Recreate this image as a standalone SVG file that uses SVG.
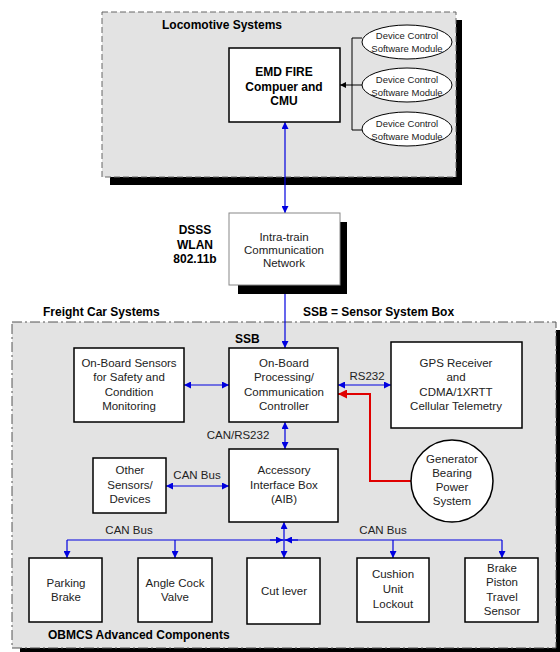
<svg xmlns="http://www.w3.org/2000/svg" width="560" height="652" viewBox="0 0 560 652">
<defs>
<marker id="ab" viewBox="0 0 10 10" refX="10" refY="5" markerWidth="7" markerHeight="7" markerUnits="userSpaceOnUse" orient="auto-start-reverse"><path d="M0,0 L10,5 L0,10 z" fill="#0000e0"/></marker>
<marker id="ar" viewBox="0 0 10 10" refX="10" refY="5" markerWidth="9" markerHeight="9" markerUnits="userSpaceOnUse" orient="auto-start-reverse"><path d="M0,0 L10,5 L0,10 z" fill="#e00000"/></marker>
<marker id="ak" viewBox="0 0 10 10" refX="10" refY="5" markerWidth="6" markerHeight="6" markerUnits="userSpaceOnUse" orient="auto-start-reverse"><path d="M0,0 L10,5 L0,10 z" fill="#000"/></marker>
</defs>
<style>
text{font-family:"Liberation Sans",Arial,sans-serif;text-anchor:middle;fill:#222;font-size:11.5px}
.b{font-weight:bold;fill:#000;font-size:12px}
.l{text-anchor:start}
.sm{font-size:9.5px}
.box{fill:#fff;stroke:#000;stroke-width:1.5}
.sh{fill:#000}
.blue{stroke:#0000e0;stroke-width:1.2;fill:none;marker-start:url(#ab);marker-end:url(#ab)}
.bl{stroke:#0000e0;stroke-width:1.2;fill:none}
</style>
<rect width="560" height="652" fill="#fff"/>
<g id="locomotive-systems">
<rect class="sh" x="110" y="20" width="352" height="165"/>
<rect x="102" y="12" width="354" height="165" fill="#e3e3e3" stroke="#666" stroke-width="1" stroke-dasharray="6,3"/>
<text class="b l" x="162" y="29">Locomotive Systems</text>
</g>
<g id="freight-car-systems">
<rect class="sh" x="20" y="330" width="540" height="322"/>
<rect x="12" y="322" width="544" height="326" fill="#e3e3e3" stroke="#555" stroke-width="1" stroke-dasharray="10,3,2,3"/>
<text class="b l" x="43" y="316">Freight Car Systems</text>
<text class="b l" x="303" y="316">SSB = Sensor System Box</text>
<text class="b l" x="235" y="343">SSB</text>
<text class="b l" x="48" y="639">OBMCS Advanced Components</text>
</g>
<g id="connectors">
<polyline points="362,38 352,38 352,130 362,130" fill="none" stroke="#000" stroke-width="1"/>
<line x1="362" y1="85" x2="340" y2="85" stroke="#000" stroke-width="1" marker-end="url(#ak)"/>
<line class="blue" x1="285" y1="122" x2="285" y2="213"/>
<line class="blue" x1="285" y1="285" x2="285" y2="348"/>
<line class="blue" x1="184" y1="385" x2="229" y2="385"/>
<line class="blue" x1="338" y1="385" x2="391" y2="385"/>
<polyline points="411,481 370,481 370,394 338,394" fill="none" stroke="#e00000" stroke-width="2" marker-end="url(#ar)"/>
<line class="blue" x1="285" y1="422" x2="285" y2="449"/>
<line class="blue" x1="166" y1="486" x2="229" y2="486"/>
<line class="blue" x1="284" y1="522" x2="284" y2="558"/>
<line class="bl" x1="67" y1="540" x2="502" y2="540"/>
<line class="bl" x1="270" y1="540" x2="283" y2="540" marker-end="url(#ab)"/>
<line class="bl" x1="298" y1="540" x2="285" y2="540" marker-end="url(#ab)"/>
<line class="bl" x1="67" y1="540" x2="67" y2="558" marker-end="url(#ab)"/>
<line class="bl" x1="175" y1="540" x2="175" y2="558" marker-end="url(#ab)"/>
<line class="bl" x1="393" y1="540" x2="393" y2="558" marker-end="url(#ab)"/>
<line class="bl" x1="502" y1="540" x2="502" y2="558" marker-end="url(#ab)"/>
<text x="238" y="439">CAN/RS232</text>
<text x="197" y="479">CAN Bus</text>
<text x="367" y="380">RS232</text>
<text x="129" y="534">CAN Bus</text>
<text x="383" y="534">CAN Bus</text>
</g>
<g id="emd-fire">
<rect class="box" x="229" y="48" width="111" height="74"/>
<text class="b" x="284" y="76">EMD FIRE</text>
<text class="b" x="284" y="91">Compuer and</text>
<text class="b" x="284" y="105">CMU</text>
</g>
<g id="dcsm-1">
<ellipse cx="407" cy="42" rx="45" ry="17" fill="#fff" stroke="#000" stroke-width="1"/>
<text class="sm" x="407" y="39">Device Control</text>
<text class="sm" x="407" y="52">Software Module</text>
</g>
<g id="dcsm-2">
<ellipse cx="407" cy="85" rx="45" ry="17" fill="#fff" stroke="#000" stroke-width="1"/>
<text class="sm" x="407" y="83">Device Control</text>
<text class="sm" x="407" y="96">Software Module</text>
</g>
<g id="dcsm-3">
<ellipse cx="407" cy="129" rx="45" ry="17" fill="#fff" stroke="#000" stroke-width="1"/>
<text class="sm" x="407" y="127">Device Control</text>
<text class="sm" x="407" y="140">Software Module</text>
</g>
<g id="intra-train">
<rect class="sh" x="238" y="222" width="109" height="72"/>
<rect x="229" y="213" width="111" height="72" fill="#fff" stroke="#888" stroke-width="1"/>
<text x="284" y="241">Intra-train</text>
<text x="284" y="254">Communication</text>
<text x="284" y="267">Network</text>
<text class="b" x="195" y="234">DSSS</text>
<text class="b" x="195" y="249">WLAN</text>
<text class="b" x="195" y="263">802.11b</text>
</g>
<g id="onboard-sensors">
<rect class="box" x="74" y="348" width="110" height="74"/>
<text x="129" y="367">On-Board Sensors</text>
<text x="129" y="381">for Safety and</text>
<text x="129" y="396">Condition</text>
<text x="129" y="410">Monitoring</text>
</g>
<g id="obpcc">
<rect class="box" x="229" y="348" width="109" height="74"/>
<text x="284" y="367">On-Board</text>
<text x="284" y="381">Processing/</text>
<text x="284" y="396">Communication</text>
<text x="284" y="410">Controller</text>
</g>
<g id="gps">
<rect class="box" x="391" y="342" width="131" height="86"/>
<text x="456" y="367">GPS Receiver</text>
<text x="456" y="381">and</text>
<text x="456" y="396">CDMA/1XRTT</text>
<text x="456" y="410">Cellular Telemetry</text>
</g>
<g id="other-sensors">
<rect class="box" x="93" y="458" width="73" height="55"/>
<text x="130" y="474">Other</text>
<text x="130" y="489">Sensors/</text>
<text x="130" y="503">Devices</text>
</g>
<g id="aib">
<rect class="box" x="229" y="449" width="109" height="73"/>
<text x="284" y="474">Accessory</text>
<text x="284" y="489">Interface Box</text>
<text x="284" y="503">(AIB)</text>
</g>
<g id="generator">
<circle cx="452" cy="481" r="41" fill="#fff" stroke="#000" stroke-width="1.5"/>
<text x="452" y="463">Generator</text>
<text x="452" y="477">Bearing</text>
<text x="452" y="491">Power</text>
<text x="452" y="505">System</text>
</g>
<g id="parking-brake">
<rect class="box" x="29" y="558" width="73" height="64"/>
<text x="66" y="587">Parking</text>
<text x="66" y="601">Brake</text>
</g>
<g id="angle-cock">
<rect class="box" x="138" y="558" width="74" height="64"/>
<text x="175" y="587">Angle Cock</text>
<text x="175" y="601">Valve</text>
</g>
<g id="cut-lever">
<rect class="box" x="247" y="558" width="73" height="66"/>
<text x="284" y="595">Cut lever</text>
</g>
<g id="cushion">
<rect class="box" x="357" y="558" width="72" height="64"/>
<text x="393" y="578">Cushion</text>
<text x="393" y="593">Unit</text>
<text x="393" y="608">Lockout</text>
</g>
<g id="brake-piston">
<rect class="box" x="465" y="558" width="73" height="64"/>
<text x="502" y="572">Brake</text>
<text x="502" y="586">Piston</text>
<text x="502" y="601">Travel</text>
<text x="502" y="615">Sensor</text>
</g>
</svg>
